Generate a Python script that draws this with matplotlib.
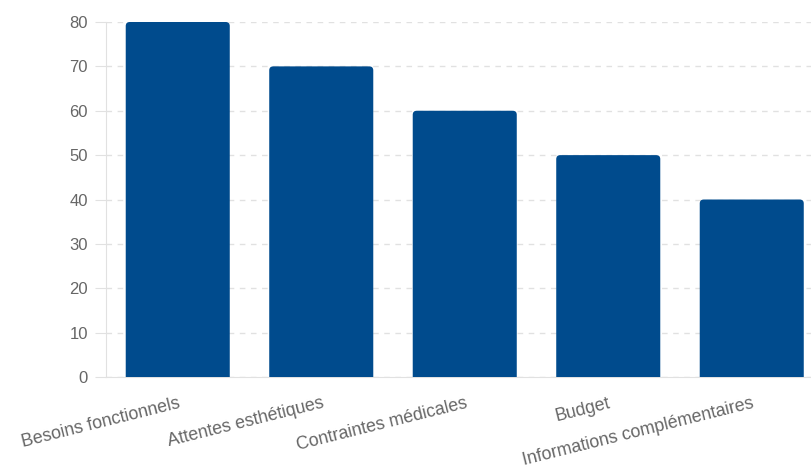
import matplotlib
matplotlib.use("Agg")
import matplotlib.pyplot as plt
from matplotlib.patches import FancyBboxPatch

categories = ["Besoins fonctionnels", "Attentes esthétiques", "Contraintes médicales",
              "Budget", "Informations complémentaires"]
values = [80, 70, 60, 50, 40]
y_ticks = [0, 10, 20, 30, 40, 50, 60, 70, 80]

bar_color = "#004b8d"
text_color = "#666666"
grid_color = "#e1e1e1"

plt.rcParams["font.family"] = ["Liberation Sans", "DejaVu Sans"]

W, H = 812, 472
fig = plt.figure(figsize=(W / 100, H / 100), dpi=100)
left_px, right_px, top_px, bottom_px = 106, 823.5, 22, 377
ax = fig.add_axes([left_px / W, 1 - bottom_px / H,
                   (right_px - left_px) / W, (bottom_px - top_px) / H])

x = list(range(len(categories)))
bars = ax.bar(x, values, width=0.725, color=bar_color)

ax.set_xlim(-0.5, len(categories) - 0.5)
ax.set_ylim(0, 80)

# rounded top corners: replace each rectangle with a rounded box that
# starts below the baseline so only the top corners show
px_per_x = (right_px - left_px) / len(categories)
px_per_y = (bottom_px - top_px) / 80
aspect = (1 / px_per_y) / (1 / px_per_x)
r = 4 / px_per_x
for b in bars:
    b.set_visible(False)
    bx, bw, bh = b.get_x(), b.get_width(), b.get_height()
    patch = FancyBboxPatch((bx, -5), bw, bh + 5,
                           boxstyle=f"round,pad=0,rounding_size={r}",
                           mutation_aspect=aspect, facecolor=bar_color,
                           edgecolor="none", zorder=3)
    ax.add_patch(patch)

ax.set_yticks(y_ticks)
ax.set_xticks(x)
ax.set_xticklabels(categories, rotation=14, ha="right", rotation_mode="anchor")

ax.yaxis.grid(True, color=grid_color, linestyle=(0, (4, 4)), linewidth=1)
ax.set_axisbelow(True)

for side in ["top", "right"]:
    ax.spines[side].set_visible(False)
ax.spines["left"].set_color(grid_color)
ax.spines["bottom"].set_color(grid_color)

ax.tick_params(axis="y", length=8, color=grid_color, labelcolor=text_color,
               labelsize=12, pad=5)
ax.tick_params(axis="x", length=0, labelcolor=text_color, labelsize=12.8, pad=13)

fig.savefig("out.png", dpi=100)
